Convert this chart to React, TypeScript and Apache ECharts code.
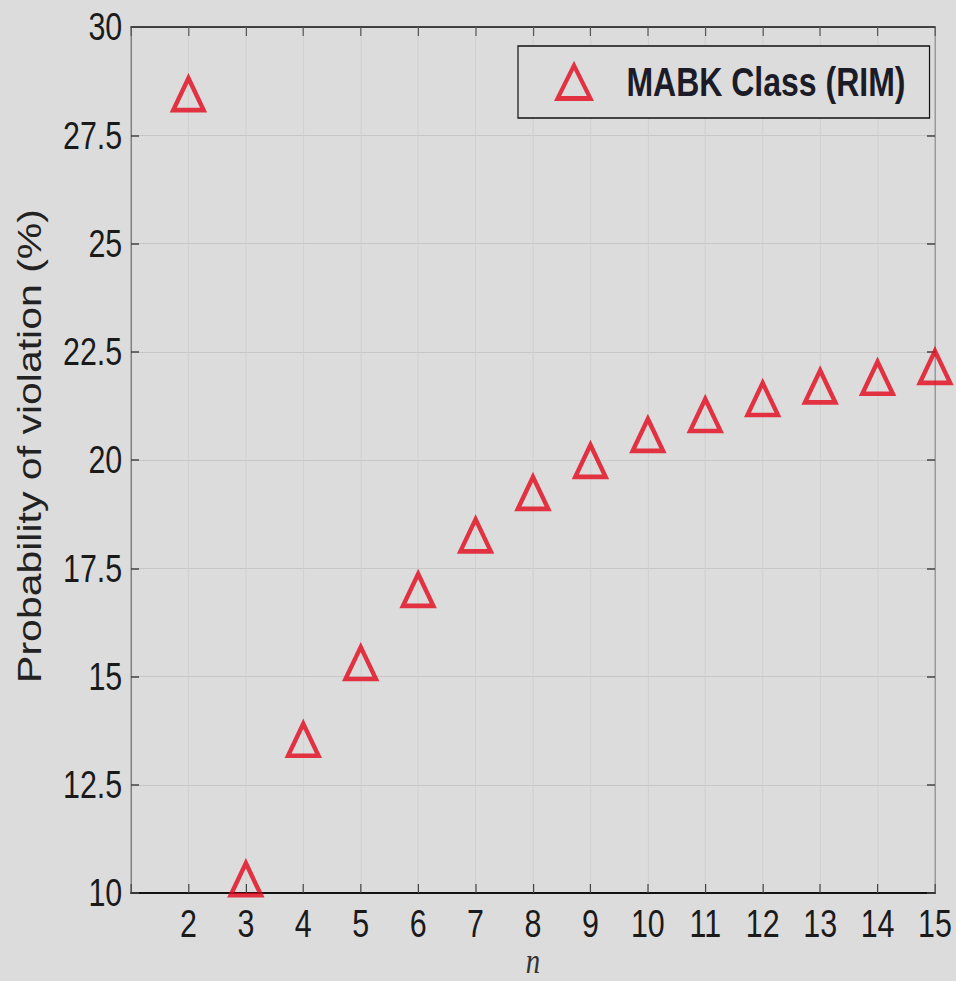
import React, { useEffect, useRef } from "react";
import * as echarts from "echarts";

// ---- data ----
const nValues = [2, 3, 4, 5, 6, 7, 8, 9, 10, 11, 12, 13, 14, 15];
const violationPct = [28.45, 10.32, 13.54, 15.31, 17.0, 18.26, 19.24, 19.98, 20.58, 21.04, 21.41, 21.7, 21.9, 22.15];
const seriesName = "MABK Class (RIM)";
const yAxisTitle = "Probability of violation (%)";
const xAxisTitle = "n";
const xRange = [1, 15];
const yRange = [10, 30];
const yStep = 2.5;

// The reference is horizontally compressed; reproduce by drawing wider and squeezing.
const PAGE_W = 956;
const PAGE_H = 981;
const CHART_W = 1195;
const S = PAGE_W / CHART_W;
const cx = (x: number) => x / S;

const FONT = "'Liberation Sans', Arial, Helvetica, sans-serif";

export default function App() {
  const ref = useRef<HTMLDivElement>(null);

  useEffect(() => {
    if (!ref.current) return;
    const chart = echarts.init(ref.current, null, { renderer: "svg" });
    const option: any = {
      animation: false,
      backgroundColor: "#dcdcdc",
      grid: {
        left: cx(131),
        right: CHART_W - cx(935),
        top: 27,
        bottom: PAGE_H - 893,
        containLabel: false,
      },
      xAxis: [
        {
          type: "value",
          position: "bottom",
          min: xRange[0],
          max: xRange[1],
          interval: 1,
          axisLine: { show: true, onZero: false, lineStyle: { color: "#111", width: 2 } },
          axisTick: { show: true, inside: true, length: 9, lineStyle: { color: "#444", width: 1.5 } },
          axisLabel: {
            margin: 12,
            fontSize: 38,
            fontFamily: FONT,
            color: "#1a1a1a",
            showMinLabel: true,
            showMaxLabel: true,
            formatter: (v: number) => (v === xRange[0] ? "" : String(v)),
          },
          splitLine: { show: true, lineStyle: { color: "#cecece", width: 1 } },
        },
        {
          type: "value",
          position: "top",
          min: xRange[0],
          max: xRange[1],
          interval: 1,
          axisLine: { show: true, onZero: false, lineStyle: { color: "#111", width: 1.5 } },
          axisTick: { show: true, inside: true, length: 9, lineStyle: { color: "#555", width: 1.5 } },
          axisLabel: { show: false },
          splitLine: { show: false },
        },
      ],
      yAxis: [
        {
          type: "value",
          position: "left",
          min: yRange[0],
          max: yRange[1],
          interval: yStep,
          axisLine: { show: true, onZero: false, lineStyle: { color: "#6a6a78", width: 1.5 } },
          axisTick: { show: true, inside: true, length: 10, lineStyle: { color: "#444", width: 1.5 } },
          axisLabel: { margin: 11, fontSize: 38, fontFamily: FONT, color: "#1a1a1a" },
          splitLine: { show: true, lineStyle: { color: "#c4c4c4", width: 1 } },
        },
        {
          type: "value",
          position: "right",
          min: yRange[0],
          max: yRange[1],
          interval: yStep,
          axisLine: { show: true, onZero: false, lineStyle: { color: "#8a8a96", width: 1.5 } },
          axisTick: { show: true, inside: true, length: 10, lineStyle: { color: "#444", width: 1.5 } },
          axisLabel: { show: false },
          splitLine: { show: false },
        },
      ],
      legend: {
        left: cx(518),
        top: 46,
        orient: "horizontal",
        padding: [16, 30, 16, 47],
        itemWidth: 41,
        itemHeight: 33,
        symbolKeepAspect: false,
        borderColor: "#111",
        borderWidth: 1.5,
        backgroundColor: "#dcdcdc",
        itemStyle: { borderWidth: 5 },
        textStyle: {
          fontSize: 40,
          fontWeight: "bold",
          fontFamily: FONT,
          color: "#1c1c28",
          padding: [0, 0, 0, 40],
        },
        data: [seriesName],
      },
      series: [
        {
          type: "scatter",
          name: seriesName,
          xAxisIndex: 0,
          yAxisIndex: 0,
          data: nValues.map((n, i) => [n, violationPct[i]]),
          symbol: "triangle",
          symbolSize: [38, 32],
          clip: false,
          z: 5,
          itemStyle: { color: "rgba(0,0,0,0)", borderColor: "#e4081a", borderWidth: 5 },
        },
      ],
      graphic: [
        {
          type: "text",
          x: cx(30),
          y: 446,
          rotation: Math.PI / 2,
          style: {
            text: yAxisTitle,
            fontSize: 41,
            fontFamily: FONT,
            fill: "#222",
            align: "center",
            verticalAlign: "middle",
          },
        },
        {
          type: "text",
          x: cx(533),
          y: 961,
          style: {
            text: xAxisTitle,
            fontSize: 36,
            fontFamily: "'Liberation Serif', 'Times New Roman', serif",
            fontStyle: "italic",
            fill: "#333",
            align: "center",
            verticalAlign: "middle",
          },
        },
      ],
    };
    chart.setOption(option);
    return () => chart.dispose();
  }, []);

  return (
    <div
      style={{
        position: "fixed",
        left: 0,
        top: 0,
        width: PAGE_W,
        height: PAGE_H,
        overflow: "hidden",
        background: "#dcdcdc",
      }}
    >
      <div
        ref={ref}
        style={{
          width: CHART_W,
          height: PAGE_H,
          transform: `scaleX(${S})`,
          transformOrigin: "0 0",
        }}
      />
    </div>
  );
}
